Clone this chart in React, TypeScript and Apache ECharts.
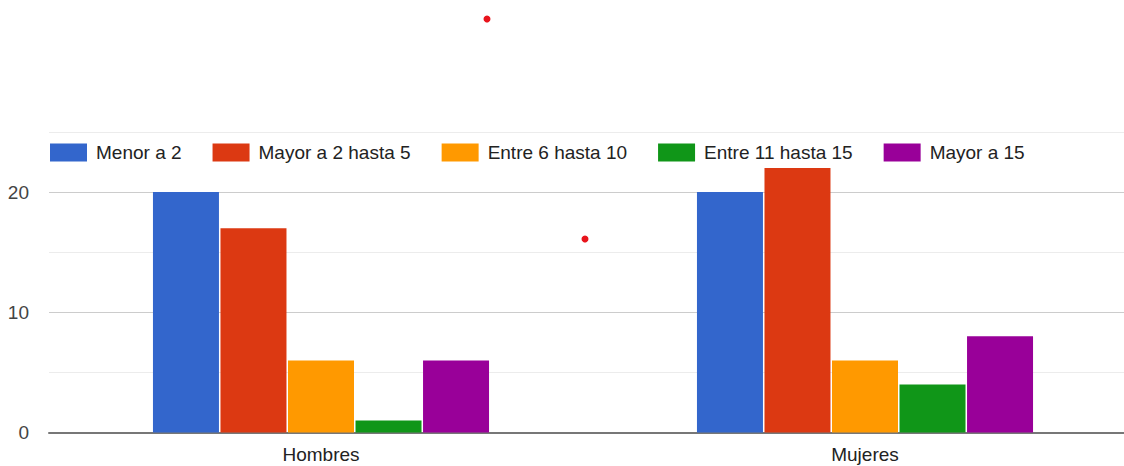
import React, { useEffect, useRef } from "react";
import * as echarts from "echarts";

const categories = ["Hombres", "Mujeres"];
const seriesNames = ["Menor a 2", "Mayor a 2 hasta 5", "Entre 6 hasta 10", "Entre 11 hasta 15", "Mayor a 15"];
const menorA2 = [20, 20];
const mayorA2hasta5 = [17, 22];
const entre6hasta10 = [6, 6];
const entre11hasta15 = [1, 4];
const mayorA15 = [6, 8];
const colors = ["#3366cc", "#dc3912", "#ff9900", "#109618", "#990099"];
const yTickLabels = [0, 10, 20];

const FONT = "Arial, 'Liberation Sans', sans-serif";

export default function App() {
  const ref = useRef<HTMLDivElement>(null);
  useEffect(() => {
    if (!ref.current) return;
    const chart = echarts.init(ref.current, undefined, { renderer: "svg" });
    const values = [menorA2, mayorA2hasta5, entre6hasta10, entre11hasta15, mayorA15];
    chart.setOption({
      animation: false,
      color: colors,
      textStyle: { fontFamily: FONT },
      legend: {
        left: 50,
        top: 143,
        padding: 0,
        itemWidth: 37,
        itemHeight: 18,
        itemGap: 31,
        icon: "rect",
        textStyle: { fontSize: 19, color: "#222", fontFamily: FONT, padding: [0, 0, 0, 4] },
        data: seriesNames,
      },
      grid: { left: 49, top: 132, width: 1088, height: 300.5, outerBoundsMode: "none" },
      xAxis: {
        type: "category",
        data: categories,
        axisTick: { show: false },
        axisLine: { lineStyle: { color: "#777", width: 2 } },
        axisLabel: { fontSize: 19, color: "#222", margin: 12, fontFamily: FONT },
        splitLine: { show: false },
      },
      yAxis: {
        type: "value",
        min: 0,
        max: 25,
        interval: 5,
        axisLine: { show: false },
        axisTick: { show: false },
        axisLabel: {
          fontSize: 19,
          color: "#444",
          margin: 20,
          fontFamily: FONT,
          formatter: (v: number) => (yTickLabels.includes(v) ? String(v) : ""),
        },
        splitLine: { lineStyle: { color: ["#cccccc", "#ececec"], width: 1 } },
      },
      series: seriesNames.map((name, i) => ({
        name,
        type: "bar",
        data: values[i],
        barWidth: 66,
        barGap: "2.3%",
        itemStyle: { color: colors[i] },
      })),
      graphic: [
        { type: "circle", shape: { cx: 487, cy: 19, r: 3.5 }, style: { fill: "#e8141c" } },
        { type: "circle", shape: { cx: 585, cy: 239, r: 3.5 }, style: { fill: "#e8141c" } },
      ],
    });
    return () => chart.dispose();
  }, []);
  return (
    <div
      ref={ref}
      style={{ position: "fixed", left: 0, top: 0, width: 1124, height: 466, background: "#fff" }}
    />
  );
}
